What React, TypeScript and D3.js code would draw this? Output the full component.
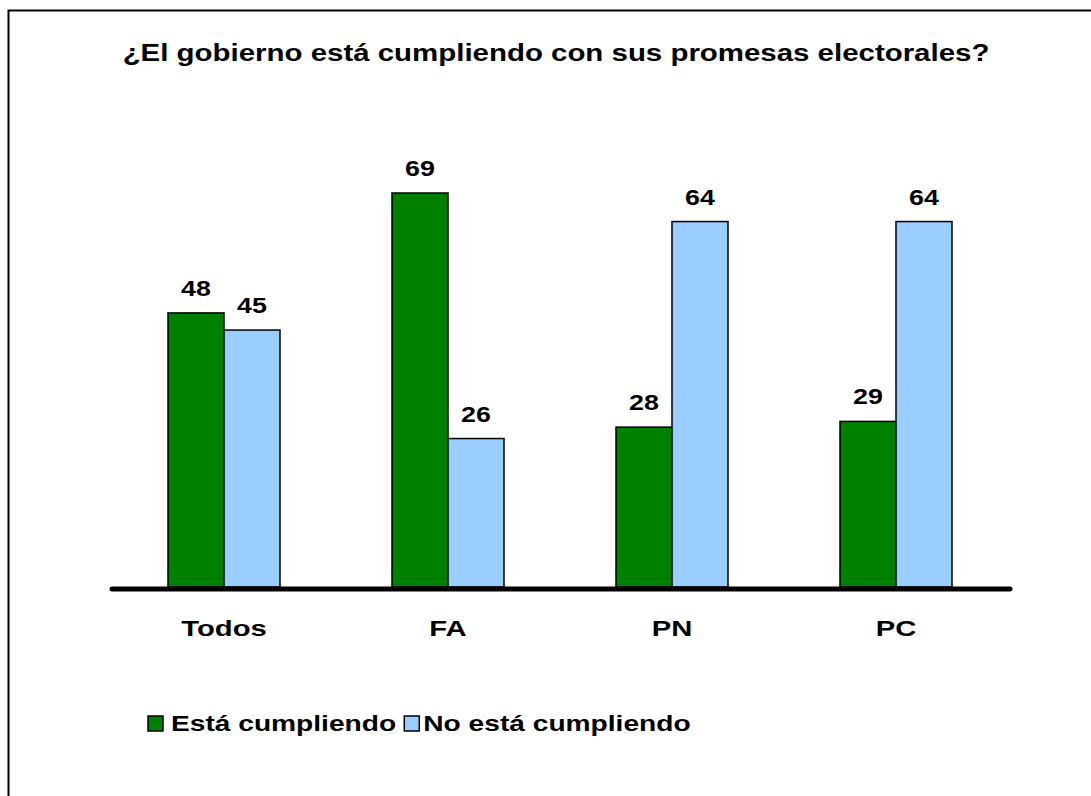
import React from 'react';
import * as d3 from 'd3';

// chart data
const categories = ['Todos', 'FA', 'PN', 'PC'];
const seriesNames = ['Está cumpliendo', 'No está cumpliendo'];
const cumpliendo = [48, 69, 28, 29];
const noCumpliendo = [45, 26, 64, 64];
const seriesColors = ['#008000', '#99CCFF'];

const W = 1091;
const H = 796;
const FONT = '"Liberation Sans", Arial, sans-serif';

// the original picture is stretched sideways, so text gets a horizontal scale
const StretchText = ({ x, y, size, stretch, anchor, children }) => (
    <g transform={`translate(${x},${y}) scale(${stretch},1)`}>
        <text x={0} y={0} fontFamily={FONT} fontWeight="bold" fontSize={size} textAnchor={anchor || 'middle'} fill="#000">
            {children}
        </text>
    </g>
);

export default function App() {
    const baseY = 587;
    // band scale for groups, inner band for the two series
    const x0 = d3.scaleBand().domain(categories).range([112, 1008]).paddingInner(0.5).paddingOuter(0.25);
    const x1 = d3.scaleBand().domain(seriesNames).range([0, x0.bandwidth()]);
    const y = d3.scaleLinear().domain([0, 100]).range([baseY, baseY - 571]);

    const rows = categories.map((c, i) => ({ cat: c, values: [cumpliendo[i], noCumpliendo[i]] }));

    const legendSize = 22;
    const legendStretch = 1.28;
    const firstW = 8.0 * legendSize * legendStretch;

    return (
        <div style={{ position: 'absolute', left: 0, top: 0 }}>
            <svg width={W} height={H} style={{ display: 'block', background: '#fff' }}>
                {/* frame, clipped at right and bottom */}
                <rect x={8.5} y={10.5} width={1110} height={820} fill="#fff" stroke="#000" strokeWidth={2} />

                <StretchText x={556} y={61} size={23} stretch={1.28}>¿El gobierno está cumpliendo con sus promesas electorales?</StretchText>

                <g>
                    {rows.map((r) => (
                        <g key={r.cat} transform={`translate(${x0(r.cat)},0)`}>
                            {r.values.map((v, j) => (
                                <rect
                                    key={j}
                                    x={x1(seriesNames[j])}
                                    y={y(v)}
                                    width={x1.bandwidth()}
                                    height={baseY - y(v)}
                                    fill={seriesColors[j]}
                                    stroke="#000"
                                    strokeWidth={1.5}
                                />
                            ))}
                            {r.values.map((v, j) => (
                                <StretchText key={'l' + j} x={x1(seriesNames[j]) + x1.bandwidth() / 2} y={y(v) - 17} size={22} stretch={1.22}>
                                    {v}
                                </StretchText>
                            ))}
                        </g>
                    ))}
                </g>

                <line x1={112} x2={1010} y1={baseY + 2} y2={baseY + 2} stroke="#000" strokeWidth={5} strokeLinecap="round" />

                {categories.map((c) => (
                    <StretchText key={c} x={x0(c) + x0.bandwidth() / 2} y={636} size={22.5} stretch={1.3}>
                        {c}
                    </StretchText>
                ))}

                {/* legend */}
                <g>
                    <rect x={148} y={716} width={15} height={15} fill={seriesColors[0]} stroke="#000" strokeWidth={1.5} />
                    <StretchText x={171} y={731} size={legendSize} stretch={legendStretch} anchor="start">{seriesNames[0]}</StretchText>
                    <rect x={171 + firstW + 8} y={716} width={15} height={15} fill={seriesColors[1]} stroke="#000" strokeWidth={1.5} />
                    <StretchText x={171 + firstW + 27} y={731} size={legendSize} stretch={legendStretch} anchor="start">{seriesNames[1]}</StretchText>
                </g>
            </svg>
        </div>
    );
}
